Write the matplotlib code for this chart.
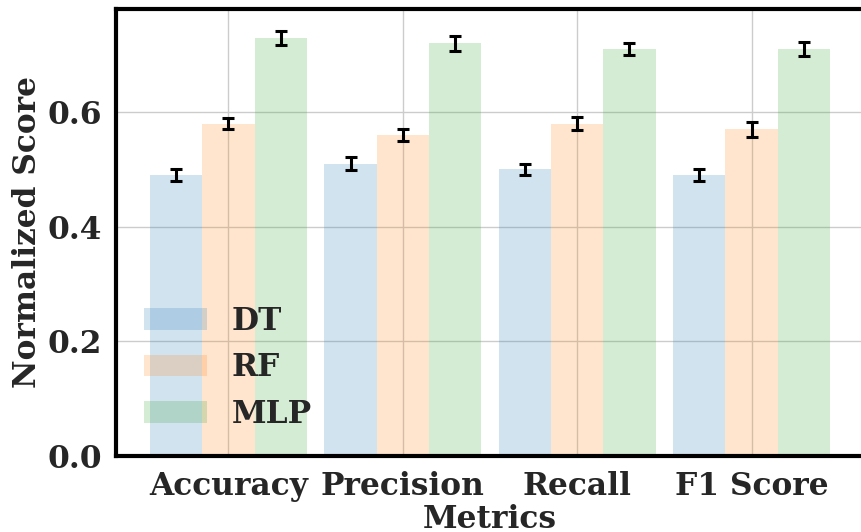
import matplotlib
matplotlib.use("Agg")
import matplotlib.pyplot as plt
import numpy as np

metrics = ["Accuracy", "Precision", "Recall", "F1 Score"]
models = ["DT", "RF", "MLP"]
scores = {
    "DT": [0.49, 0.51, 0.50, 0.49],
    "RF": [0.58, 0.56, 0.58, 0.57],
    "MLP": [0.73, 0.72, 0.71, 0.71],
}
errors = {
    "DT": [0.011, 0.011, 0.010, 0.011],
    "RF": [0.010, 0.011, 0.011, 0.013],
    "MLP": [0.012, 0.013, 0.011, 0.012],
}
colors = {"DT": "tab:blue", "RF": "tab:orange", "MLP": "tab:green"}
yticks = [0.0, 0.2, 0.4, 0.6]

plt.rcParams["font.family"] = ["DejaVu Serif"]
plt.rcParams["font.weight"] = "bold"
text_color = "#262626"
fs = 22.5

fig = plt.figure(figsize=(8.61, 5.32), dpi=100)
ax = fig.add_axes([116 / 861, 76 / 532, 748 / 861, 447 / 532])

x = np.arange(len(metrics))
width = 0.3
for i, m in enumerate(models):
    ax.bar(x + (i - 1) * width, scores[m], width, color=colors[m], alpha=0.2,
           label=m, zorder=2)
    ax.errorbar(x + (i - 1) * width, scores[m], yerr=errors[m], fmt="none",
                ecolor="black", elinewidth=2.2, capsize=4.2, capthick=2.2, zorder=3)

ax.set_xlim(-0.645, 3.645)
ax.set_ylim(0, 0.78)
ax.set_xticks(x)
ax.set_xticklabels(metrics)
ax.set_yticks(yticks)
ax.set_yticklabels([f"{v:.1f}" for v in yticks])
ax.tick_params(axis="both", length=0, labelsize=fs, colors=text_color)
ax.tick_params(axis="y", pad=10)
ax.tick_params(axis="x", pad=11)
for lab in ax.get_xticklabels() + ax.get_yticklabels():
    lab.set_fontweight("bold")

ax.grid(True, color="#cccccc", linewidth=1, zorder=0)
ax.set_axisbelow(True)
for s in ax.spines.values():
    s.set_color("black")
    s.set_linewidth(3)

ax.set_xlabel("Metrics", fontsize=fs, fontweight="bold", color=text_color, labelpad=1)
ax.set_ylabel("Normalized Score", fontsize=fs, fontweight="bold", color=text_color, labelpad=3)

leg = ax.legend(loc="lower left", bbox_to_anchor=(0.0, -0.005), frameon=False,
                fontsize=fs, handlelength=2.0, handleheight=0.7,
                handletextpad=0.8, labelspacing=0.5)
for t in leg.get_texts():
    t.set_color(text_color)
    t.set_fontweight("bold")

fig.savefig("out.png", dpi=100)
